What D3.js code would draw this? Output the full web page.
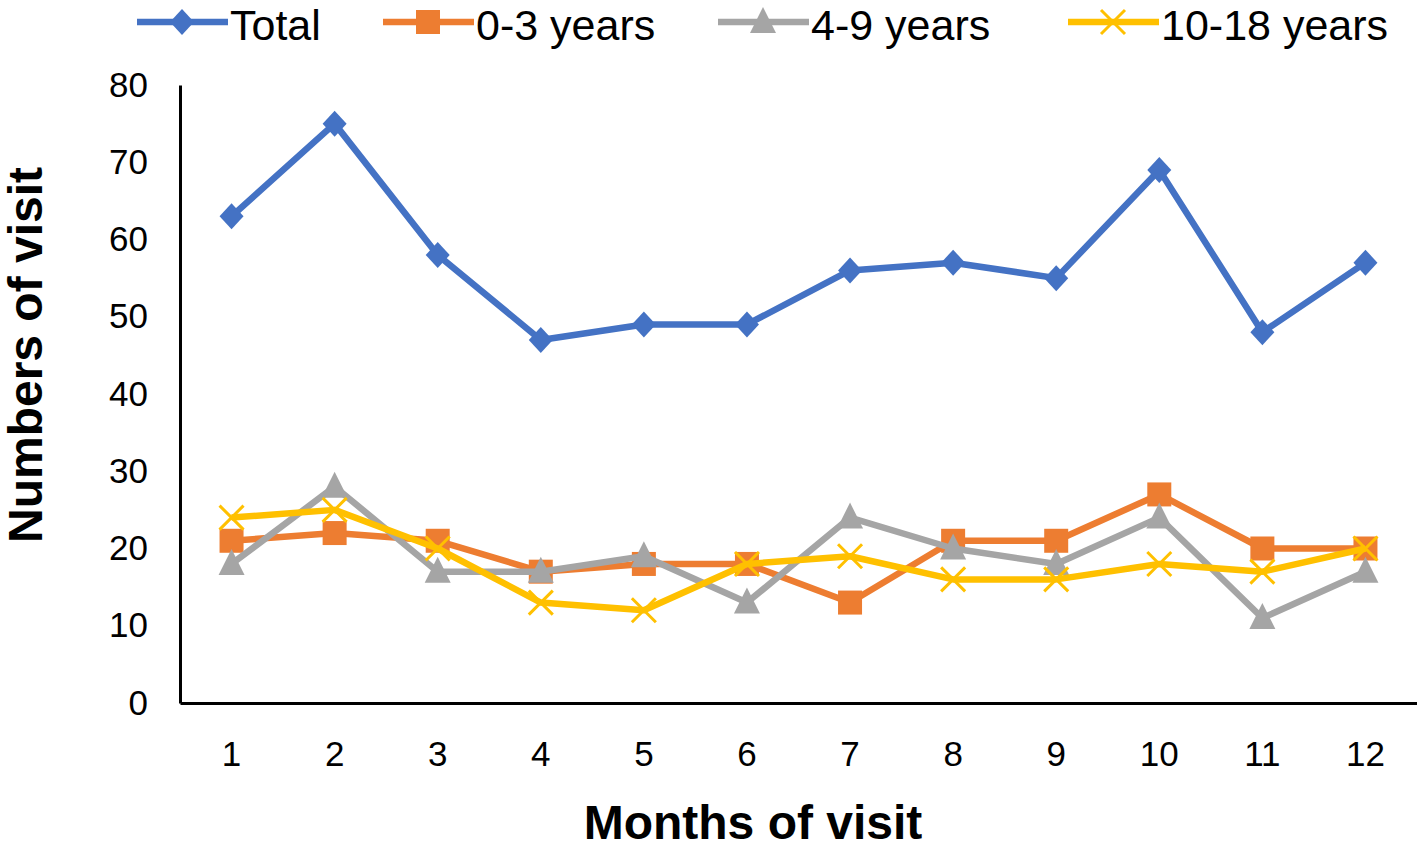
<!DOCTYPE html>
<html><head><meta charset="utf-8">
<script src="https://cdn.jsdelivr.net/npm/d3@7"></script>
<style>body{margin:0;background:#fff}svg{display:block}</style>
</head><body>
<svg id="chart" width="1417" height="849"></svg>
<script>
const months = ["1","2","3","4","5","6","7","8","9","10","11","12"];
const total = [63,75,58,47,49,49,56,57,55,69,48,57];
const age0to3 = [21,22,21,17,18,18,13,21,21,27,20,20];
const age4to9 = [18,28,17,17,19,13,24,20,18,24,11,17];
const age10to18 = [24,25,20,13,12,18,19,16,16,18,17,20];
const yTicks = [0,10,20,30,40,50,60,70,80];
const seriesNames = ["Total","0-3 years","4-9 years","10-18 years"];

(function () {
const series = [
  {name: seriesNames[0], values: total, color: "#4472C4", marker: "diamond"},
  {name: seriesNames[1], values: age0to3, color: "#ED7D31", marker: "square"},
  {name: seriesNames[2], values: age4to9, color: "#A5A5A5", marker: "triangle"},
  {name: seriesNames[3], values: age10to18, color: "#FFC000", marker: "x"}
];

const svg = d3.select("#chart");
const pL = 180, pR = 1417, pT = 85, pB = 703;
const x = d3.scaleBand().domain(months).range([pL, pR]);
const y = d3.scaleLinear().domain([0, 80]).range([pB, pT]);
const font = "'Liberation Sans', Arial, sans-serif";

// Y axis
const yAxis = svg.append("g").attr("transform", `translate(${pL},0)`)
  .call(d3.axisLeft(y).tickValues(yTicks).tickSize(0).tickPadding(32));
yAxis.select(".domain").attr("stroke", "#000").attr("stroke-width", 3);
yAxis.selectAll("text").attr("font-family", font).attr("font-size", 35).attr("fill", "#000");

// X axis
const xAxis = svg.append("g").attr("transform", `translate(0,${pB})`)
  .call(d3.axisBottom(x).tickSize(0).tickPadding(38));
xAxis.select(".domain").attr("stroke", "#000").attr("stroke-width", 3);
xAxis.selectAll("text").attr("font-family", font).attr("font-size", 35).attr("fill", "#000");

// Axis titles
svg.append("text").attr("x", 753).attr("y", 839)
  .attr("text-anchor", "middle").attr("font-family", font).attr("font-weight", "bold")
  .attr("font-size", 48).text("Months of visit");
svg.append("text").attr("transform", `translate(42,355) rotate(-90)`)
  .attr("text-anchor", "middle").attr("font-family", font).attr("font-weight", "bold")
  .attr("font-size", 48).text("Numbers of visit");

function drawMarker(g, type, color, cx, cy) {
  if (type === "diamond") {
    g.append("path").attr("d", `M${cx},${cy-13}L${cx+12},${cy}L${cx},${cy+13}L${cx-12},${cy}Z`).attr("fill", color);
  } else if (type === "square") {
    g.append("rect").attr("x", cx-12).attr("y", cy-12).attr("width", 24).attr("height", 24).attr("fill", color);
  } else if (type === "triangle") {
    g.append("path").attr("d", `M${cx},${cy-15}L${cx+13},${cy+11}L${cx-13},${cy+11}Z`).attr("fill", color);
  } else {
    g.append("path").attr("d", `M${cx-12},${cy-12}L${cx+12},${cy+12}M${cx+12},${cy-12}L${cx-12},${cy+12}`)
      .attr("stroke", color).attr("stroke-width", 3).attr("fill", "none");
  }
}

const line = d3.line().x((d, i) => x(months[i]) + x.bandwidth() / 2).y(d => y(d));
series.forEach(s => {
  const g = svg.append("g");
  g.append("path").attr("d", line(s.values)).attr("fill", "none")
    .attr("stroke", s.color).attr("stroke-width", 6.5).attr("stroke-linejoin", "round");
  s.values.forEach((v, i) => drawMarker(g, s.marker, s.color, x(months[i]) + x.bandwidth() / 2, y(v)));
});

// Legend
const legendX = [137, 383, 718, 1068];
series.forEach((s, i) => {
  const g = svg.append("g");
  const lx = legendX[i], ly = 22;
  g.append("line").attr("x1", lx).attr("x2", lx + 91).attr("y1", ly).attr("y2", ly)
    .attr("stroke", s.color).attr("stroke-width", 6.5);
  drawMarker(g, s.marker, s.color, lx + 45, ly);
  g.append("text").attr("x", lx + 93).attr("y", 40).attr("font-family", font)
    .attr("font-size", 43).attr("fill", "#000").text(s.name);
});
})();
</script>
</body></html>
